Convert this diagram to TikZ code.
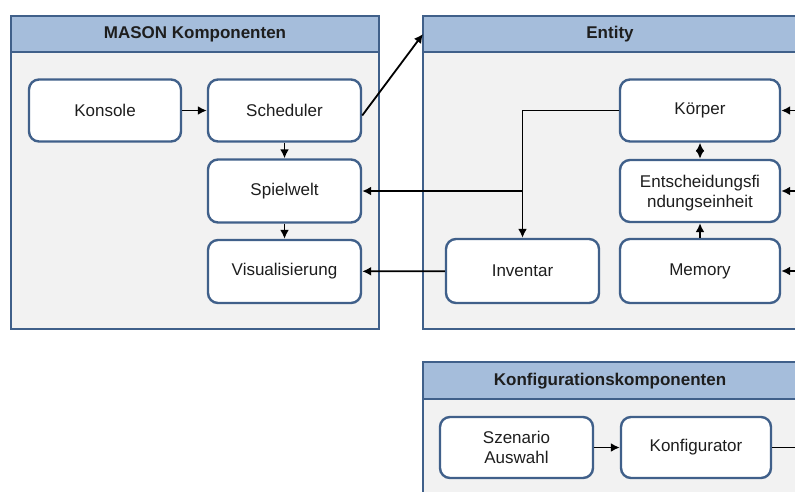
\documentclass[tikz,border=0pt]{standalone}
\usepackage{fontspec}
\setmainfont{Liberation Sans}
\usetikzlibrary{arrows.meta,calc}
\definecolor{frameblue}{RGB}{64,96,138}
\definecolor{headblue}{RGB}{165,189,219}
\definecolor{panelgray}{RGB}{242,242,242}
\definecolor{inkdark}{RGB}{30,30,30}
\tikzset{
  panel/.style={draw=frameblue, line width=2.4pt, fill=panelgray},
  panelhead/.style={draw=frameblue, line width=2.4pt, fill=headblue},
  headtext/.style={font=\fontsize{17}{20}\selectfont\bfseries, text=inkdark},
  comp/.style={draw=frameblue, line width=2.4pt, fill=white, rounded corners=10pt,
    font=\fontsize{17}{20}\selectfont, text=inkdark, align=center, inner sep=0pt},
  link/.style={line width=1.8pt, draw=black, -{Latex[length=9pt,width=9pt]}},
  plain/.style={line width=1.8pt, draw=black}
}
\begin{document}
\begin{tikzpicture}[x=1pt,y=-1pt]
\useasboundingbox (0,0) rectangle (795,491);
\clip (0,0) rectangle (795,491);

% containers
\draw[panel] (11,16) rectangle (379,329);
\draw[panelhead] (11,16) rectangle (379,52);
\node[headtext] (masonhead) at (195,34) {MASON Komponenten};

\draw[panel] (423,16) rectangle (810,329);
\draw[panelhead] (423,16) rectangle (810,52);
\node[headtext] (entityhead) at (610,34) {Entity};
\coordinate (entitycorner) at (423,34);

\draw[panel] (423,362) rectangle (810,510);
\draw[panelhead] (423,362) rectangle (810,399);
\node[headtext] (confhead) at (610,381) {Konfigurationskomponenten};

% MASON components
\node[comp, minimum width=152pt, minimum height=62pt] (konsole) at (105,110.5) {Konsole};
\node[comp, minimum width=153pt, minimum height=62pt] (scheduler) at (284.5,110.5) {Scheduler};
\node[comp, minimum width=153pt, minimum height=63pt] (spielwelt) at (284.5,191) {Spielwelt};
\node[comp, minimum width=153pt, minimum height=63pt] (visual) at (284.5,271.5) {Visualisierung};

% Entity components
\node[comp, minimum width=160pt, minimum height=62pt] (koerper) at (700,110.5) {Körper};
\node[comp, minimum width=160pt, minimum height=62pt, text depth=0pt] (entscheid) at (700,191) {Entscheidungsfi\\ndungseinheit};
\node[comp, minimum width=153pt, minimum height=64pt] (inventar) at (522.5,271) {Inventar};
\node[comp, minimum width=160pt, minimum height=64pt] (memory) at (700,271) {Memory};

% configuration components
\node[comp, minimum width=153pt, minimum height=61pt] (szenario) at (516.5,447.5) {Szenario\\Auswahl};
\node[comp, minimum width=150pt, minimum height=61pt] (konfig) at (696,447.5) {Konfigurator};

% inputs from the right
\coordinate (inK) at (800,110.5);
\coordinate (inE) at (800,191);
\coordinate (inM) at (800,271);
\coordinate (outC) at (800,447.5);

% connectors
\draw[link] (konsole) -- (scheduler);
\draw[link] (scheduler) -- (spielwelt);
\draw[link] (spielwelt) -- (visual);
\draw[link] ([yshift=-5pt]scheduler.east) -- (entitycorner);

\draw[link] (koerper.west) -| (inventar.north);
\coordinate (branch) at (inventar.north |- spielwelt.east);
\draw[link] (branch) -- (spielwelt.east);
\draw[link] (inventar) -- (visual);

\draw[line width=1.8pt, {Latex[length=9pt,width=9pt]}-{Latex[length=9pt,width=9pt]}] (koerper) -- (entscheid);
\draw[link] (memory) -- (entscheid);

\draw[link] (inK) -- (koerper);
\draw[link] (inE) -- (entscheid);
\draw[link] (inM) -- (memory);

\draw[link] (szenario) -- (konfig);
\draw[plain] (konfig) -- (outC);
\end{tikzpicture}
\end{document}
